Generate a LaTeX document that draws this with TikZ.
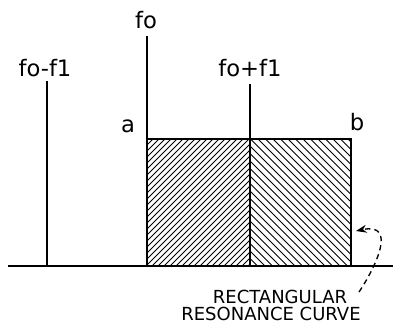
\documentclass[tikz,border=0pt]{standalone}
\usepackage{fontspec}
\setmainfont{DejaVu Sans}
\usetikzlibrary{arrows.meta}

\begin{document}
\begin{tikzpicture}[x=0.75pt, y=-0.75pt, >=Stealth, line width=1.5pt,
    lbl/.style={inner sep=0pt, font=\fontsize{17}{17}\selectfont},
    note/.style={inner sep=0pt, font=\fontsize{13.5}{15}\selectfont},
    hatch/.style={line width=0.75pt}]
    \useasboundingbox (0,0) rectangle (393,325);

    % frequencies and corners of the curve
    \coordinate (start) at (8,266);
    \coordinate (end) at (393,266);
    \coordinate (lo) at (47,266);
    \coordinate (mid) at (147,266);
    \coordinate (hi) at (250,266);
    \coordinate (right) at (351,266);
    \coordinate (a) at (147,139);
    \coordinate (b) at (351,139);

    \node[lbl] (Flo) at (45,68) {fo-f1};
    \node[lbl] (Fmid) at (146,20) {fo};
    \node[lbl] (Fhi) at (250,68) {fo+f1};
    \node[lbl] (A) at (128,126) {a};
    \node[lbl] (B) at (357,122) {b};
    \node[note] (Rect) at (280,297) {RECTANGULAR};
    \node[note] (Res) at (271,314) {RESONANCE CURVE};

    % hatching
    \begin{scope}
        \clip (mid) rectangle (250,139);
        \foreach \i in {0,...,40}
            \draw[hatch] (20+\i*6,266) -- ++(127,-127);
    \end{scope}
    \begin{scope}
        \clip (hi) rectangle (b);
        \foreach \i in {0,...,32}
            \draw[hatch] (250+\i*7.5,266) -- ++(-127,-127);
    \end{scope}

    \draw (start) -- (end);
    \draw (lo) -- (lo |- 0,81);
    \draw (mid) -- (mid |- 0,36);
    \draw (hi) -- (hi |- 0,84);
    \draw (a) -- (b) -- (right);

    \coordinate (tail) at (359,292);
    \coordinate (tip) at (356,231);
    \draw[->, line width=1pt, dash pattern=on 4pt off 3pt, >={Stealth[length=8pt, width=6pt]}]
        (tail) .. controls (375,268) and (398,222) .. (tip);
\end{tikzpicture}
\end{document}
